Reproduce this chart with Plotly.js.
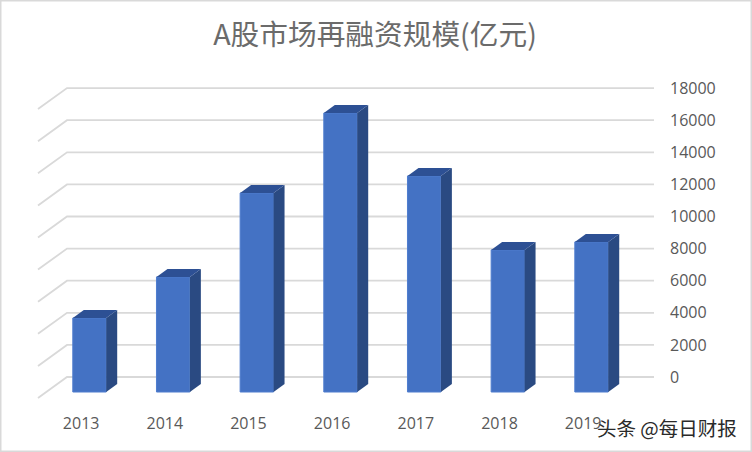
<!DOCTYPE html>
<html><head><meta charset="utf-8">
<script src="https://cdn.plot.ly/plotly-3.0.1.min.js"></script>
<style>html,body{margin:0;padding:0;background:#fff}#c{width:752px;height:452px}</style>
</head><body><div id="c"></div>
<script>
const years = ['2013','2014','2015','2016','2017','2018','2019'];
const values = [4610, 7170, 12400, 17380, 13460, 8850, 9350];
const gridValues = [0,2000,4000,6000,8000,10000,12000,14000,16000,18000];

// Pixel geometry of the fake 3-D box
const W = 752, H = 452, plotTop = 60, plotBottom = 412;
const pxPerCat = 83.67, firstCenter = 89.5;
const pxPerUnit = 16.05 / 1000;
const base = 392, backBase = 377;
const halfBar = 16.7 / pxPerCat;
const depthX = 11 / pxPerCat, depthY = 8 / pxPerUnit;
const toCatX = px => (px - firstCenter) / pxPerCat;
const gridLeft = toCatX(67), gridFront = toCatX(38), gridRight = toCatX(654);
const slantY = 21 / pxPerUnit;

const idx = years.map((_, i) => i);
const traces = [];

// Back wall + floor lines (lower subplot, so they sit behind the bars)
gridValues.forEach(v => traces.push({
  type: 'scatter', mode: 'lines', xaxis: 'x', yaxis: 'y', hoverinfo: 'skip', showlegend: false,
  x: [gridFront, gridLeft, gridRight], y: [v - slantY, v, v],
  line: {color: '#d9d9d9', width: 1.8}
}));

// Front faces
traces.push({
  type: 'bar', xaxis: 'x', yaxis: 'y2', x: idx, y: values, width: 2 * halfBar, showlegend: false,
  marker: {color: '#4472c4', line: {color: '#4f7dce', width: 1}}
});
// Side and top faces
values.forEach((v, i) => {
  const r = i + halfBar, l = i - halfBar;
  traces.push({
    type: 'scatter', mode: 'lines', fill: 'toself', xaxis: 'x', yaxis: 'y2', hoverinfo: 'skip', showlegend: false,
    x: [r, r + depthX, r + depthX, r, r], y: [0, depthY, v + depthY, v, 0],
    fillcolor: '#2a4a82', line: {width: 0, color: '#2a4a82'}
  });
  traces.push({
    type: 'scatter', mode: 'lines', fill: 'toself', xaxis: 'x', yaxis: 'y2', hoverinfo: 'skip', showlegend: false,
    x: [l, l + depthX, r + depthX, r, l], y: [v, v + depthY, v + depthY, v, v],
    fillcolor: '#2d5094', line: {width: 0, color: '#2d5094'}
  });
});

const yRange = b => [-(plotBottom - b) / pxPerUnit, (b - plotTop) / pxPerUnit];
const textGray = '#595959';
const layout = {
  width: W, height: H, margin: {l: 0, r: 0, t: 0, b: 0},
  paper_bgcolor: '#fff', plot_bgcolor: '#fff', showlegend: false,
  title: {text: 'A股市场再融资规模(亿元)', x: 375 / W, xanchor: 'center', y: 1 - 35 / H, yanchor: 'middle',
    font: {family: '"Noto Sans CJK SC", sans-serif', size: 28.7, color: '#6b6b6b'}},
  xaxis: {
    domain: [0, 1], range: [toCatX(0), toCatX(W)], showgrid: false, zeroline: false, showline: false,
    tickmode: 'array', tickvals: idx.map(i => i - 0.1), ticktext: years, ticks: '',
    tickfont: {family: '"Open Sans", "Noto Sans", sans-serif', size: 16, color: textGray}
  },
  yaxis: {
    domain: [1 - plotBottom / H, 1 - plotTop / H], range: yRange(backBase), anchor: 'free', position: 669 / W, side: 'right',
    showgrid: false, zeroline: false, showline: false, ticks: '',
    tickmode: 'array', tickvals: gridValues, ticktext: gridValues.map(String),
    tickfont: {family: '"Open Sans", "Noto Sans", sans-serif', size: 16, color: textGray}
  },
  yaxis2: {
    domain: [1 - plotBottom / H, 1 - plotTop / H], range: yRange(base), overlaying: 'y', anchor: 'x', side: 'left',
    visible: false, showgrid: false, zeroline: false
  },
  shapes: [{type: 'rect', xref: 'paper', yref: 'paper', x0: 0, x1: 1, y0: 0, y1: 1,
    line: {color: '#d9d9d9', width: 3}, fillcolor: 'rgba(0,0,0,0)'}],
  annotations: [{
    text: '头条 @每日财报', xref: 'paper', yref: 'paper', x: 739 / W, y: 1 - 427 / H,
    xanchor: 'right', yanchor: 'middle', showarrow: false,
    font: {family: '"Noto Sans CJK SC", sans-serif', size: 19.5, color: '#2a2a2a', shadow: '1px 1px 1px #ffffff'}
  }]
};
Plotly.newPlot('c', traces, layout, {displayModeBar: false, staticPlot: true});
</script></body></html>
